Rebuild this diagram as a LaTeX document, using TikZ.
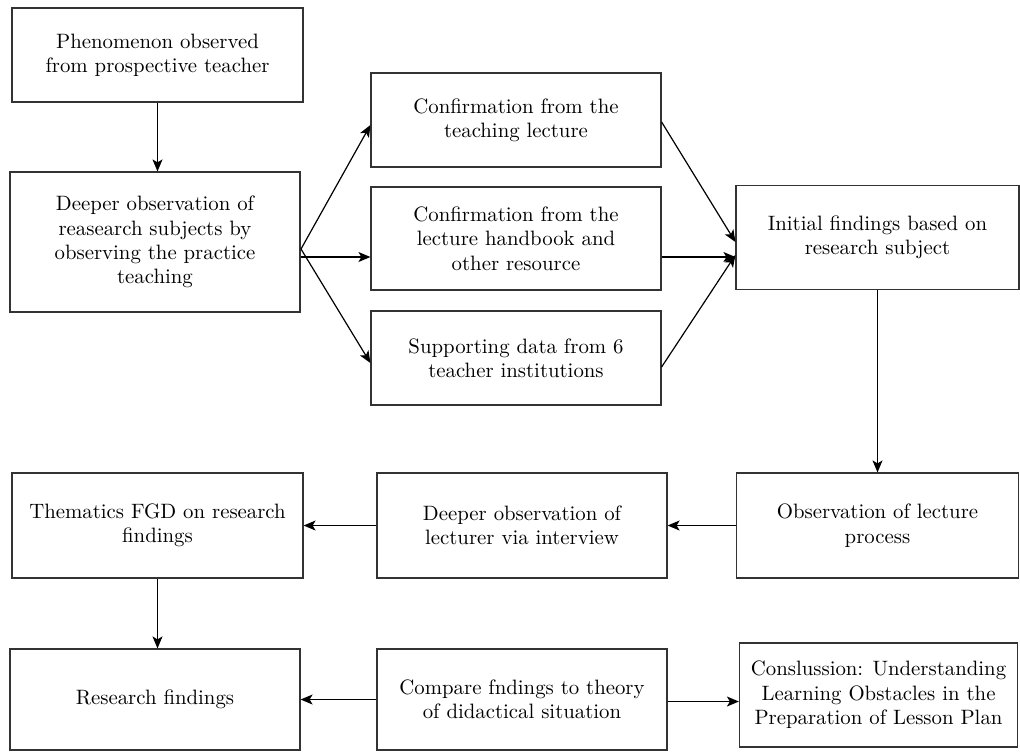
\documentclass[tikz,border=0pt]{standalone}
\usepackage{tikz}
\usetikzlibrary{positioning}
\usetikzlibrary{arrows.meta}
\tikzstyle{stepbox}=[rectangle,draw=black!80,line width=0.6pt,align=center,inner sep=2pt,font=\fontsize{10.4}{12.2}\selectfont]
\tikzstyle{edge} = [draw,line width=0.6pt,-{Stealth[length=6pt,width=5pt,inset=1.5pt]}]

\begin{document}
\begin{tikzpicture}[x=0.5pt,y=-0.5pt]

    \useasboundingbox (0,0) rectangle (1020,752);

    % First we draw the boxes
    \foreach \pos/\name/\w/\h/\label in {{(157.5,55)/phen/145.5pt/47pt/{Phenomenon observed\\from prospective teacher}},
        {(155,242)/deeper/145pt/70pt/{Deeper observation of\\reasearch subjects by\\observing the practice\\teaching}},
        {(516,120)/confa/145pt/47pt/{Confirmation from the\\teaching lecture}},
        {(516,238.5)/confb/145pt/51.5pt/{Confirmation from the\\lecture handbook and\\other resource}},
        {(516,358)/supp/145pt/47pt/{Supporting data from 6\\teacher institutions}},
        {(877.5,237.5)/initial/141.5pt/52pt/{Initial findings based on\\research subject}},
        {(157.5,525.5)/thematics/145.5pt/52.5pt/{Thematics FGD on research\\findings}},
        {(522,525.5)/lecturer/145pt/52.5pt/{Deeper observation of\\lecturer via interview}},
        {(877.5,525.5)/observation/141pt/52.5pt/{Observation of lecture\\process}},
        {(155,699.5)/research/145pt/50.5pt/{Research findings}},
        {(522,699.5)/compare/145pt/50.5pt/{Compare fndings to theory\\of didactical situation}},
        {(878.5,695)/conclusion/139pt/52pt/{Conslussion: Understanding\\Learning Obstacles in the\\Preparation of Lesson Plan}}}
        \node[stepbox,minimum width=\w,minimum height=\h] (\name) at \pos {\label};

    % Fan out of the practice teaching box
    \coordinate (fan) at (301,249);
    \coordinate (mid) at ([yshift=-9.25pt]confb.west);
    \draw[line width=0.6pt] (deeper.east |- fan) -- (fan);
    \path[edge] (fan) -- ([yshift=-2.5pt]confa.west);
    \path[edge] (fan) -- ([yshift=-2.5pt]supp.west);
    \path[edge] (mid -| deeper.east) -- (mid);

    % Into the initial findings
    \path[edge] ([yshift=-1pt]confa.east) -- ([yshift=-2.25pt]initial.west);
    \path[edge] (mid -| confb.east) -- (mid -| initial.west);
    \path[edge] ([yshift=-4.5pt]supp.east) -- ([yshift=-8.75pt]initial.west);

    % Connect the remaining boxes
    \foreach \source/ \dest in {phen/deeper, thematics/research}
          \path[edge] (\source.south) -- (\source.south |- \dest.north);
    \foreach \source/ \dest in {initial.south/observation.north, observation.west/lecturer.east, lecturer.west/thematics.east, compare.west/research.east}
          \path[edge] (\source) -- (\dest);
    \path[edge] ([yshift=-1pt]compare.east) -- ([yshift=-1pt]compare.east -| conclusion.west);

\end{tikzpicture}
\end{document}
